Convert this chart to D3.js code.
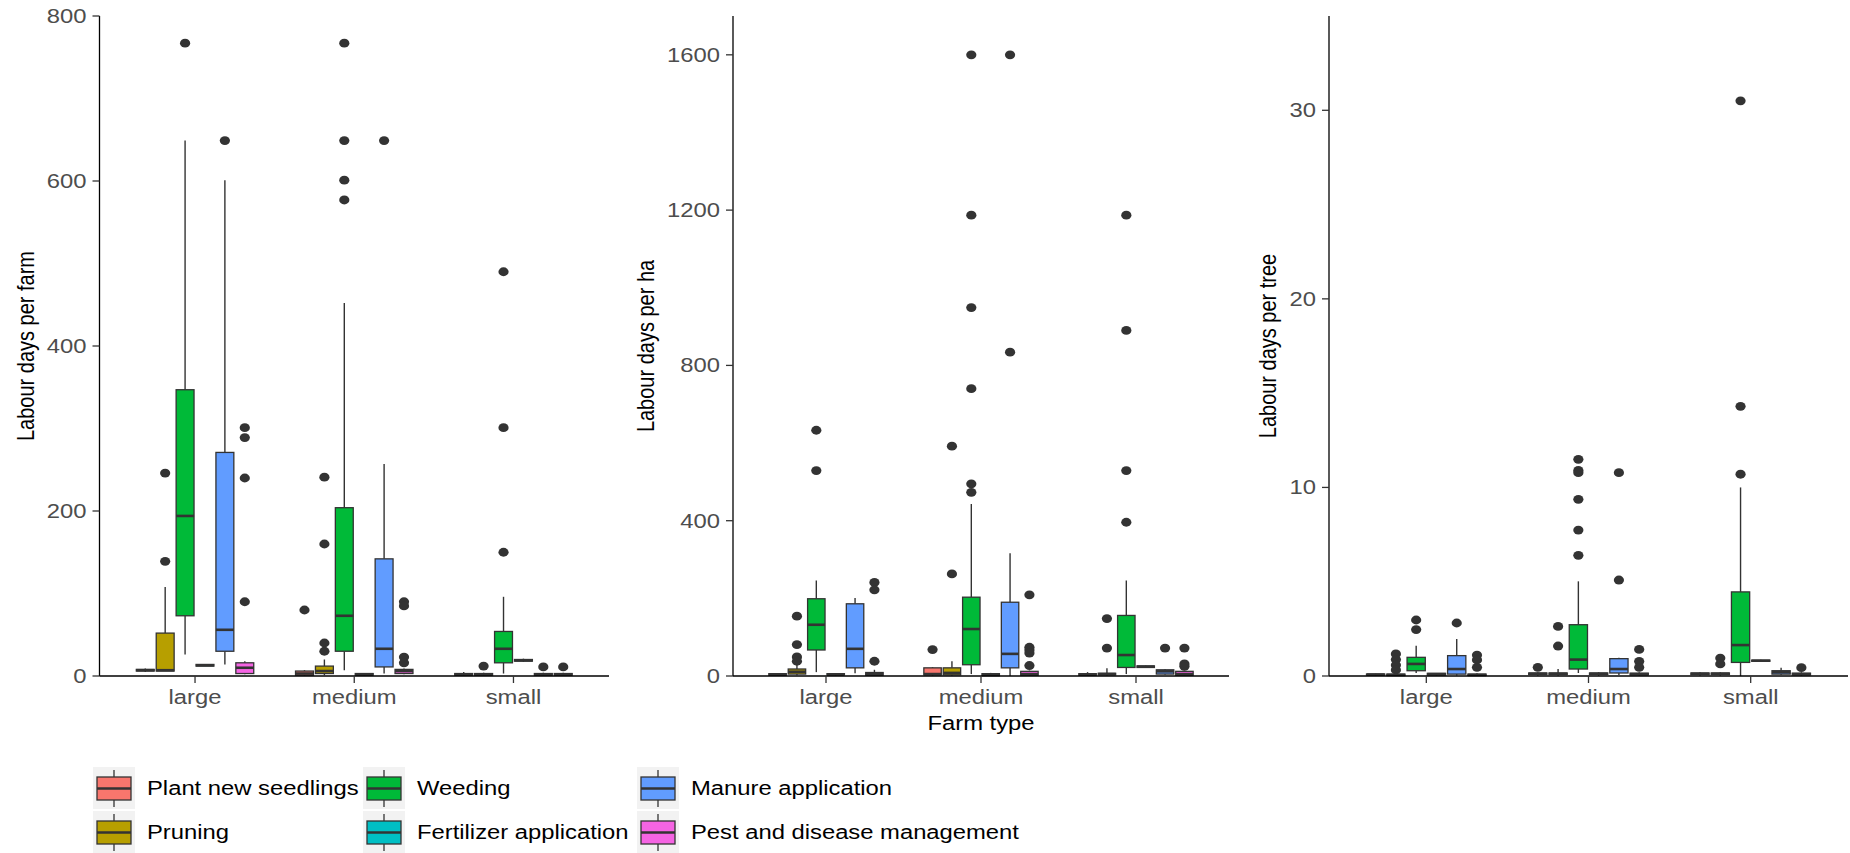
<!DOCTYPE html>
<html>
<head>
<meta charset="utf-8">
<script src="https://cdn.jsdelivr.net/npm/d3@7"></script>
<style>
  body { margin: 0; background: #fff; }
  svg { display: block; font-family: "Liberation Sans", Arial, sans-serif; }
</style>
</head>
<body>
<svg id="chart" width="1850" height="853"></svg>
<script>
// Farm types on the x axis and the six labour activities (fill groups)
const farmTypes = ["large", "medium", "small"];
const activities = ["Plant new seedlings", "Pruning", "Weeding",
                    "Fertilizer application", "Manure application", "Pest and disease management"];
const activityColors = ["#F8766D", "#B79F00", "#00BA38", "#00BFC4", "#619CFF", "#F564E3"];

// Box statistics: [farm type, activity, lower whisker, Q1, median, Q3, upper whisker, outliers]
const perFarmBoxes = [
  ["large",  "Plant new seedlings",          5, 6, 7, 8, 9, []],
  ["large",  "Pruning",                      6, 6, 7, 52, 108, [139, 246]],
  ["large",  "Weeding",                      26, 73, 194, 347, 649, [767]],
  ["large",  "Fertilizer application",       12, 12, 13, 14, 14, []],
  ["large",  "Manure application",           14, 30, 56, 271, 601, [649]],
  ["large",  "Pest and disease management",  2, 3, 10, 16, 18, [301, 289, 240, 90]],
  ["medium", "Plant new seedlings",          0, 1, 3, 6, 7, [80]],
  ["medium", "Pruning",                      1, 3, 6, 12, 20, [241, 160, 40, 30]],
  ["medium", "Weeding",                      7, 30, 73, 204, 452, [767, 649, 601, 577]],
  ["medium", "Fertilizer application",       0, 1, 2, 3, 3, []],
  ["medium", "Manure application",           3, 11, 33, 142, 257, [649]],
  ["medium", "Pest and disease management",  2, 3, 6, 8, 9, [90, 85, 23, 16]],
  ["small",  "Plant new seedlings",          0, 1, 2, 3, 5, []],
  ["small",  "Pruning",                      0, 1, 2, 3, 4, [12]],
  ["small",  "Weeding",                      3, 16, 33, 54, 96, [490, 301, 150]],
  ["small",  "Fertilizer application",       17, 18, 19, 20, 21, []],
  ["small",  "Manure application",           0, 1, 2, 3, 4, [11]],
  ["small",  "Pest and disease management",  0, 1, 2, 3, 4, [11]]
];

const perHaBoxes = [
  ["large",  "Plant new seedlings",          0, 2, 4, 6, 7, []],
  ["large",  "Pruning",                      2, 5, 11, 18, 30, [154, 81, 49, 38]],
  ["large",  "Weeding",                      10, 67, 132, 199, 246, [633, 529]],
  ["large",  "Fertilizer application",       1, 3, 4, 6, 7, []],
  ["large",  "Manure application",           7, 21, 70, 186, 201, []],
  ["large",  "Pest and disease management",  1, 2, 5, 9, 16, [241, 222, 38]],
  ["medium", "Plant new seedlings",          1, 3, 5, 21, 23, [68]],
  ["medium", "Pruning",                      1, 3, 8, 21, 38, [592, 263]],
  ["medium", "Weeding",                      5, 29, 121, 203, 443, [1600, 1187, 949, 740, 495, 473]],
  ["medium", "Fertilizer application",       0, 1, 3, 6, 8, []],
  ["medium", "Manure application",           0, 21, 57, 190, 316, [1600, 834]],
  ["medium", "Pest and disease management",  0, 2, 5, 12, 14, [209, 74, 67, 59, 27]],
  ["small",  "Plant new seedlings",          0, 2, 4, 6, 10, []],
  ["small",  "Pruning",                      1, 3, 5, 7, 20, [148, 72]],
  ["small",  "Weeding",                      5, 22, 54, 156, 246, [1187, 890, 529, 396]],
  ["small",  "Fertilizer application",       21, 22, 24, 26, 27, []],
  ["small",  "Manure application",           3, 5, 12, 16, 18, [72]],
  ["small",  "Pest and disease management",  0, 2, 5, 12, 14, [72, 31, 25]]
];

const perTreeBoxes = [
  ["large",  "Plant new seedlings",          0, 0.05, 0.08, 0.1, 0.12, []],
  ["large",  "Pruning",                      0, 0.03, 0.06, 0.1, 0.15, [1.17, 0.87, 0.58, 0.32]],
  ["large",  "Weeding",                      0.16, 0.28, 0.64, 0.99, 1.61, [2.97, 2.46]],
  ["large",  "Fertilizer application",       0.02, 0.05, 0.1, 0.14, 0.16, []],
  ["large",  "Manure application",           0.02, 0.1, 0.37, 1.08, 1.96, [2.81]],
  ["large",  "Pest and disease management",  0, 0.03, 0.06, 0.1, 0.15, [1.11, 0.85, 0.46]],
  ["medium", "Plant new seedlings",          0.02, 0.08, 0.12, 0.16, 0.2, [0.46]],
  ["medium", "Pruning",                      0.02, 0.08, 0.12, 0.16, 0.37, [2.63, 1.59]],
  ["medium", "Weeding",                      0.16, 0.37, 0.87, 2.72, 5.02, [11.49, 10.9, 10.78, 9.37, 7.74, 6.4]],
  ["medium", "Fertilizer application",       0.02, 0.08, 0.12, 0.16, 0.2, []],
  ["medium", "Manure application",           0.05, 0.16, 0.37, 0.92, 0.97, [10.78, 5.09]],
  ["medium", "Pest and disease management",  0.02, 0.06, 0.1, 0.15, 0.2, [1.41, 0.78, 0.46]],
  ["small",  "Plant new seedlings",          0.02, 0.08, 0.12, 0.16, 0.2, []],
  ["small",  "Pruning",                      0.02, 0.08, 0.12, 0.16, 0.2, [0.95, 0.64]],
  ["small",  "Weeding",                      0, 0.72, 1.64, 4.46, 10.0, [30.5, 14.3, 10.7]],
  ["small",  "Fertilizer application",       0.75, 0.78, 0.81, 0.84, 0.86, []],
  ["small",  "Manure application",           0.05, 0.1, 0.2, 0.28, 0.44, []],
  ["small",  "Pest and disease management",  0.02, 0.06, 0.1, 0.15, 0.2, [0.44]]
];

// Tick values of each panel's y axis
const perFarmTicks = [0, 200, 400, 600, 800];
const perHaTicks   = [0, 400, 800, 1200, 1600];
const perTreeTicks = [0, 10, 20, 30];

// ---- layout ----
const svg = d3.select("#chart");
const Y_TOP = 16, Y_BOT = 676;
const INK = "#333333";
const TXT_STRETCH = 1.19;   // horizontal widening applied to all text
const color = d3.scaleOrdinal().domain(activities).range(activityColors);

const panels = [
  { rows: perFarmBoxes, ymax: 800,  ticks: perFarmTicks, title: "Labour days per farm", x0: 99.5, x1: 609,  titleX: 26 },
  { rows: perHaBoxes,   ymax: 1700, ticks: perHaTicks,   title: "Labour days per ha",   x0: 733,  x1: 1229, titleX: 646 },
  { rows: perTreeBoxes, ymax: 35,   ticks: perTreeTicks, title: "Labour days per tree", x0: 1329, x1: 1848, titleX: 1268 }
];

function wideText(g, x, y, str, opts) {
  return g.append("text")
    .attr("transform", `translate(${x},${y}) scale(${TXT_STRETCH},1)`)
    .attr("text-anchor", opts.anchor || "start")
    .attr("dominant-baseline", opts.baseline || "auto")
    .attr("font-size", opts.size || 20)
    .attr("fill", opts.fill || "#000")
    .text(str);
}

panels.forEach(p => {
  const g = svg.append("g");
  const x = d3.scalePoint().domain(farmTypes).range([p.x0, p.x1]).padding(0.6);
  const y = d3.scaleLinear().domain([0, p.ymax]).range([Y_BOT, Y_TOP]);
  const slot = x.step() * 0.75 / activities.length;   // dodge slot per activity
  const boxW = slot * 0.9;                            // dodge2 padding

  const boxes = p.rows.map(r => ({
    farm: r[0], act: r[1], lo: r[2], q1: r[3], med: r[4], q3: r[5], hi: r[6], out: r[7],
    cx: x(r[0]) + (activities.indexOf(r[1]) - (activities.length - 1) / 2) * slot
  }));

  const bg = g.selectAll("g.box").data(boxes).join("g").attr("class", "box");

  // whiskers
  bg.append("line")
    .attr("x1", d => d.cx).attr("x2", d => d.cx)
    .attr("y1", d => y(d.hi)).attr("y2", d => y(d.q3))
    .attr("stroke", INK).attr("stroke-width", 1.4);
  bg.append("line")
    .attr("x1", d => d.cx).attr("x2", d => d.cx)
    .attr("y1", d => y(d.q1)).attr("y2", d => y(d.lo))
    .attr("stroke", INK).attr("stroke-width", 1.4);

  // boxes
  bg.append("rect")
    .attr("x", d => d.cx - boxW / 2).attr("width", boxW)
    .attr("y", d => y(d.q3)).attr("height", d => Math.max(0, y(d.q1) - y(d.q3)))
    .attr("fill", d => color(d.act))
    .attr("stroke", INK).attr("stroke-width", 1.3);

  // medians
  bg.append("line")
    .attr("x1", d => d.cx - boxW / 2).attr("x2", d => d.cx + boxW / 2)
    .attr("y1", d => y(d.med)).attr("y2", d => y(d.med))
    .attr("stroke", INK).attr("stroke-width", 2.6);

  // outliers
  bg.selectAll("ellipse").data(d => d.out.map(v => ({ cx: d.cx, v })))
    .join("ellipse")
    .attr("cx", d => d.cx).attr("cy", d => y(d.v))
    .attr("rx", 5.1).attr("ry", 4.4)
    .attr("fill", INK);

  // y axis
  g.append("line").attr("x1", p.x0).attr("x2", p.x0).attr("y1", Y_TOP).attr("y2", Y_BOT)
    .attr("stroke", "#000").attr("stroke-width", 1.3);
  p.ticks.forEach(t => {
    g.append("line").attr("x1", p.x0 - 7).attr("x2", p.x0).attr("y1", y(t)).attr("y2", y(t))
      .attr("stroke", INK).attr("stroke-width", 1.3);
    wideText(g, p.x0 - 13, y(t), String(t), { anchor: "end", baseline: "central", fill: "#4D4D4D" });
  });

  // x axis
  g.append("line").attr("x1", p.x0).attr("x2", p.x1).attr("y1", Y_BOT).attr("y2", Y_BOT)
    .attr("stroke", "#000").attr("stroke-width", 1.3);
  farmTypes.forEach(f => {
    g.append("line").attr("x1", x(f)).attr("x2", x(f)).attr("y1", Y_BOT).attr("y2", Y_BOT + 7)
      .attr("stroke", INK).attr("stroke-width", 1.3);
    wideText(g, x(f), 704, f, { anchor: "middle", fill: "#4D4D4D" });
  });

  // y axis title (rotated; the widening acts on glyph height here)
  g.append("text")
    .attr("transform", `translate(${p.titleX},${(Y_TOP + Y_BOT) / 2}) rotate(-90) scale(1,${TXT_STRETCH})`)
    .attr("text-anchor", "middle").attr("dy", "0.35em")
    .attr("font-size", 20).attr("fill", "#000")
    .text(p.title);
});

// x axis title under the middle panel
wideText(svg, (panels[1].x0 + panels[1].x1) / 2, 730, "Farm type", { anchor: "middle" });

// ---- legend: three columns of two keys ----
const legendCols = [93, 363, 637];
const legendRows = [767, 811];
const KEY = 42;
const leg = svg.append("g");
activities.forEach((a, i) => {
  const kx = legendCols[Math.floor(i / 2)];
  const ky = legendRows[i % 2];
  const k = leg.append("g").attr("transform", `translate(${kx},${ky})`);
  k.append("rect").attr("width", KEY).attr("height", KEY).attr("fill", "#F2F2F2");
  k.append("line").attr("x1", KEY / 2).attr("x2", KEY / 2).attr("y1", 3).attr("y2", KEY - 2)
    .attr("stroke", INK).attr("stroke-width", 1.3);
  k.append("rect").attr("x", 4).attr("y", 10).attr("width", KEY - 8).attr("height", 23)
    .attr("fill", color(a)).attr("stroke", INK).attr("stroke-width", 1.3);
  k.append("line").attr("x1", 4).attr("x2", KEY - 4).attr("y1", 21.5).attr("y2", 21.5)
    .attr("stroke", INK).attr("stroke-width", 2.6);
  wideText(leg, kx + 54, ky + KEY / 2, a, { baseline: "central" });
});
</script>
</body>
</html>
